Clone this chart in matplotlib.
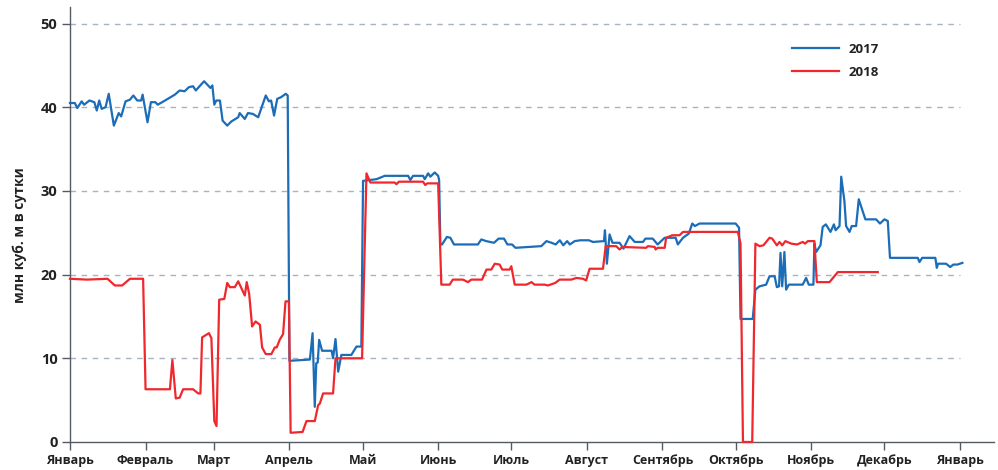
# -*- coding: utf-8 -*-
import matplotlib
matplotlib.use('Agg')
import matplotlib.pyplot as plt

plt.rcParams['font.family'] = ['Open Sans', 'DejaVu Sans']
plt.rcParams['font.weight'] = 'bold'

# day of year (0 = 1 January) and million m3 per day
blue_x = [0, 2, 3, 4.8, 5.8, 8, 10, 11, 12, 13, 14.6, 15.9, 18, 20, 21, 22.8, 24.6, 26,
          27.6, 29.2, 29.8, 31.8, 33.2, 35, 36, 39, 43, 45, 47, 48.8, 50.5, 51.6, 55,
          57.6, 58.4, 59.2, 60, 61.5, 62.6, 64.5, 66.2, 69, 69.6, 71.7, 73, 75, 77.2,
          80.3, 81.6, 82.5, 83.7, 85, 86.6, 88.5, 89.3, 90, 98.4, 99.5, 100.4, 101,
          101.6, 102.2, 103.4, 107.3, 107.9, 108.9, 110, 111.3, 115.4, 117.5, 119.5,
          120.2, 123, 125.7, 129.1, 138.7, 139.6, 140.7, 144.8, 145.5, 146.9, 147.8,
          149.6, 151, 151.4, 151.9, 152.6, 154.6, 156, 157.5, 167.3, 168.7, 170.7,
          173.9, 175.8, 178, 179.4, 181.3, 182.7, 193.3, 195.4, 197.5, 199.2, 200.9,
          202.3, 203.9, 205, 207, 209.3, 212.8, 214.5, 219, 219.4, 220.2, 221.3, 222.5,
          225.4, 227, 229.5, 231.6, 235, 236, 239, 241, 243.9, 248.4, 249.3, 251.4,
          253.8, 255.2, 256.3, 258.2, 273, 274.4, 275, 280, 281.1, 282.8, 285.5, 286.9,
          289, 289.9, 290.8, 291.4, 292.1, 293, 293.7, 294.8, 300.5, 301.9, 303, 304.9,
          305.3, 306, 307.8, 308.7, 310, 311.9, 313.3, 314, 315.6, 316.3, 317.6, 318.3,
          319.7, 320.6, 322.4, 323.5, 326.2, 330.6, 332.2, 334, 335.4, 336.3, 347.7,
          348.4, 349.5, 354.9, 355.5, 356, 359.3, 361, 362.3, 364, 366]
blue_y = [40.5, 40.5, 39.9, 40.7, 40.3, 40.8, 40.6, 39.6, 40.8, 39.8, 40.0, 41.6, 37.8,
          39.3, 38.9, 40.7, 40.9, 41.4, 40.8, 40.8, 41.5, 38.2, 40.6, 40.6, 40.3, 40.8,
          41.5, 42.0, 41.9, 42.4, 42.5, 42.0, 43.1, 42.3, 42.6, 40.3, 40.8, 40.8, 38.4,
          37.8, 38.3, 38.8, 39.3, 38.6, 39.3, 39.2, 38.8, 41.4, 40.7, 40.8, 39.0, 41.0,
          41.2, 41.6, 41.4, 9.7, 9.85, 13.0, 4.2, 9.4, 9.5, 12.2, 10.9, 10.9, 10.0, 12.3,
          8.4, 10.4, 10.4, 11.4, 11.4, 31.2, 31.3, 31.4, 31.8, 31.8, 31.3, 31.8, 31.8,
          31.4, 32.1, 31.7, 32.2, 31.8, 31.3, 23.6, 23.6, 24.5, 24.4, 23.6, 23.6, 24.2,
          24.0, 23.8, 24.3, 24.3, 23.6, 23.6, 23.2, 23.4, 24.0, 23.8, 23.6, 24.1, 23.5,
          24.0, 23.6, 24.0, 24.1, 24.1, 23.9, 24.0, 25.3, 21.3, 24.8, 23.8, 23.8, 23.1,
          24.6, 23.9, 23.9, 24.3, 24.3, 23.6, 24.4, 24.4, 23.6, 24.4, 24.9, 26.1, 25.8,
          26.1, 26.1, 25.6, 14.7, 14.7, 18.2, 18.6, 18.8, 19.8, 19.8, 18.5, 18.6, 22.6,
          18.6, 22.7, 18.2, 18.8, 18.8, 19.6, 18.8, 18.8, 23.7, 22.7, 23.5, 25.7, 26.0,
          25.1, 26.0, 25.3, 25.8, 31.7, 28.8, 25.8, 25.1, 25.8, 25.8, 29.0, 26.6, 26.6,
          26.1, 26.6, 26.4, 22.0, 22.0, 21.5, 22.0, 22.0, 20.8, 21.3, 21.3, 20.9, 21.2,
          21.2, 21.4]

red_x = [0, 7, 15.4, 18.4, 21.4, 24.6, 30, 31, 41, 42, 43.4, 45, 46.4, 50.5, 52.6, 53.5,
         54.2, 57, 58, 59.2, 60.1, 61.2, 63.3, 64.5, 65.6, 67.6, 69, 71.7, 72.5, 73.5,
         74.7, 76.1, 77.9, 78.8, 80.3, 82.6, 84, 84.8, 86, 87.4, 88.4, 89.8, 90.5, 95.4,
         97, 100.4, 101.8, 102.5, 103.8, 107.9, 108.9, 119.8, 121.6, 123.2, 133.2, 133.9,
         134.9, 144.8, 145.7, 146.5, 151, 152.3, 155.7, 157, 161.2, 163.2, 164.6, 169,
         170.8, 172.8, 174.2, 176.2, 177.3, 180.3, 181, 182.4, 187.2, 189.3, 190.5, 194.7,
         196, 199, 200.8, 205.6, 207.7, 210.4, 211.7, 213.1, 218.6, 219.7, 224, 225.4,
         226.5, 236.3, 237, 239.8, 240.2, 241, 243.9, 244.5, 247, 250, 251.4, 273.9, 275,
         276, 279.8, 281.1, 282.8, 284.4, 286.9, 288, 289.9, 291, 292.1, 293.4, 295.8,
         298.2, 300.5, 301.5, 302.6, 305.3, 306.3, 311.5, 314.9, 331.3]
red_y = [19.5, 19.4, 19.5, 18.7, 18.7, 19.5, 19.5, 6.3, 6.3, 9.8, 5.2, 5.3, 6.3, 6.3, 5.8,
         5.8, 12.5, 13.0, 12.4, 2.5, 1.9, 17.0, 17.1, 19.0, 18.5, 18.5, 19.2, 17.5, 19.1,
         17.7, 13.8, 14.4, 14.0, 11.3, 10.5, 10.5, 11.3, 11.3, 12.2, 12.9, 16.8, 16.8, 1.1,
         1.2, 2.5, 2.5, 4.4, 4.6, 5.8, 5.8, 10.0, 10.0, 32.1, 31.0, 31.0, 30.8, 31.1, 31.1,
         30.7, 30.9, 30.9, 18.8, 18.8, 19.4, 19.4, 19.1, 19.4, 19.4, 20.6, 20.6, 21.3,
         21.2, 20.6, 20.6, 21.0, 18.8, 18.8, 19.1, 18.8, 18.8, 18.7, 19.0, 19.4, 19.4,
         19.6, 19.5, 19.3, 20.7, 20.7, 23.4, 23.4, 23.0, 23.3, 23.2, 23.4, 23.3, 23.0,
         23.2, 23.2, 24.4, 24.7, 24.7, 25.1, 25.1, 23.7, 0.0, 0.0, 23.7, 23.4, 23.5, 24.4,
         24.3, 23.5, 23.9, 23.5, 24.0, 23.7, 23.6, 23.9, 23.7, 24.0, 24.0, 19.1, 19.1,
         20.3, 20.3]

month_days = [0, 31, 59, 90, 120, 151, 181, 212, 243, 273, 304, 334, 365]
month_names = ['Январь', 'Февраль', 'Март', 'Апрель', 'Май', 'Июнь', 'Июль',
               'Август', 'Сентябрь', 'Октябрь', 'Ноябрь', 'Декабрь', 'Январь']
y_ticks = [0, 10, 20, 30, 40, 50]

fig = plt.figure(figsize=(9.98, 4.7), dpi=100)
ax = fig.add_axes([0.0701, 0.0596, 0.926, 0.926])

for v in y_ticks[1:]:
    ax.plot([0, 365], [v, v], color='#a7b3c2', lw=1, dashes=(4, 4), zorder=1)

ax.plot(blue_x, blue_y, color='#1b6db8', lw=1.6, label='2017', zorder=3, clip_on=False)
ax.plot(red_x, red_y, color='#f0282d', lw=1.6, label='2018', zorder=4, clip_on=False)

ax.set_xlim(0, 379)
ax.set_ylim(0, 52)
ax.set_xticks(month_days)
ax.set_xticklabels(month_names)
ax.set_yticks(y_ticks)
ax.tick_params(axis='x', length=6, width=1, color='#555b63', pad=3,
               labelsize=9, labelcolor='#222')
ax.tick_params(axis='y', length=6, width=1, color='#555b63', pad=3,
               labelsize=10.5, labelcolor='#222')
for lab in ax.get_xticklabels() + ax.get_yticklabels():
    lab.set_fontweight('bold')

for s in ['top', 'right']:
    ax.spines[s].set_visible(False)
for s in ['left', 'bottom']:
    ax.spines[s].set_color('#555b63')
    ax.spines[s].set_linewidth(1)

fig.text(20 / 998, 1 - 235 / 470, 'млн куб. м в сутки', rotation=90,
         ha='center', va='center', fontsize=10, fontweight='bold', color='#222')

leg = ax.legend(loc='upper left', bbox_to_anchor=(791.7 / 998, 1 - 43 / 470),
                bbox_transform=fig.transFigure, frameon=False, fontsize=9.5,
                handlelength=3.6, handletextpad=0.7, labelspacing=0.75,
                borderpad=0, borderaxespad=0)
for t in leg.get_texts():
    t.set_fontweight('bold')
    t.set_color('#222')

fig.savefig('out.png', dpi=100)
